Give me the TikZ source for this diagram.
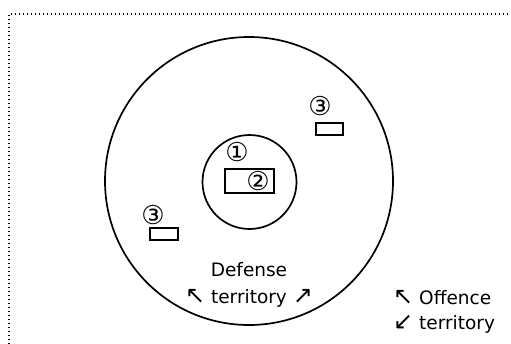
\documentclass[tikz,border=0pt]{standalone}
\usepackage{fontspec}
\setmainfont{DejaVu Sans}
\newcommand{\bigarr}[1]{{\fontsize{24}{20}\selectfont #1}}
\begin{document}
\begin{tikzpicture}[x=1pt,y=-1pt,
  ring/.style={draw,circle,line width=1.7pt,inner sep=0pt},
  box/.style={draw,rectangle,line width=1.5pt,inner sep=0pt},
  lbl/.style={inner sep=0pt,font=\fontsize{18.5}{20}\selectfont},
  num/.style={inner sep=0pt,font=\fontsize{26}{26}\selectfont},
  frame/.style={line width=1.2pt,dash pattern=on 1.2pt off 2.8pt}]
\useasboundingbox (0,0) rectangle (511,343);
\draw[frame] (9,360) -- (9,14) -- (530,14);
\node[ring,minimum size=288pt] (outer) at (249,181) {};
\node[ring,minimum size=94pt] (inner) at (249.5,182) {};
\node[box,minimum width=49pt,minimum height=24pt] (centerbox) at (249.5,181) {};
\node[box,minimum width=27pt,minimum height=12pt] (boxtr) at (329.5,129) {};
\node[box,minimum width=28pt,minimum height=12pt] (boxbl) at (164,234) {};
\node[num] (n1) at (237,152) {①};
\node[num] (n2) at (258,181) {②};
\node[num] (n3a) at (320,106) {③};
\node[num] (n3b) at (153,215) {③};
\node[lbl] (def) at (249,270) {Defense};
\node[lbl] (defterr) at (249,298) {\bigarr{↖} territory \bigarr{↗}};
\node[lbl,anchor=west] (off) at (393,298) {\bigarr{↖} Offence};
\node[lbl,anchor=west] (offterr) at (393,324) {\bigarr{↙} territory};
\end{tikzpicture}
\end{document}
